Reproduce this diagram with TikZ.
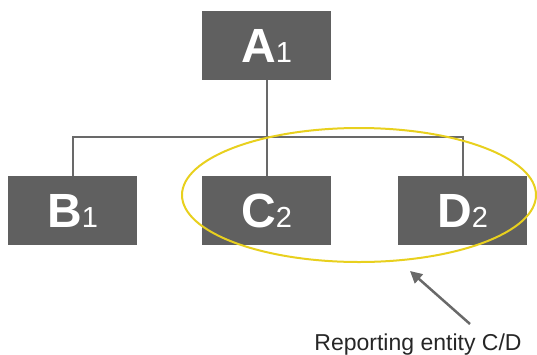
\documentclass[tikz,border=0pt]{standalone}
\usepackage{fontspec}
\setmainfont{Liberation Sans}
\usetikzlibrary{shapes.geometric,arrows.meta}
\definecolor{boxgray}{RGB}{96,96,96}
\definecolor{linegray}{RGB}{105,105,105}
\definecolor{eyyellow}{RGB}{232,208,30}
\begin{document}
\begin{tikzpicture}[x=1pt,y=-1pt,
  entity/.style={fill=boxgray,minimum width=129pt,minimum height=69pt,inner sep=0pt,text=white},
  link/.style={draw=linegray,line width=2pt}]
\useasboundingbox (0,0) rectangle (537,354);
\newcommand{\ent}[2]{{\fontsize{48}{48}\selectfont\bfseries #1}{\fontsize{29}{29}\selectfont #2}}
\node[entity] (A) at (266.5,45.5) {\ent{A}{1}};
\node[entity] (B) at (72.5,210.5) {\ent{B}{1}};
\node[entity] (C) at (266.5,210.5) {\ent{C}{2}};
\node[entity] (D) at (462.5,210.5) {\ent{D}{2}};
\coordinate (J) at (266.5,137);
\draw[link] (A.south) -- (C.north);
\draw[link] (B.north) |- (J) -| (D.north);
\node[draw=eyyellow,line width=2pt,ellipse,minimum width=354pt,minimum height=134pt,inner sep=0pt] (E) at (359,195) {};
\node[anchor=base,font=\fontsize{23}{23}\selectfont,text=black!85] (L) at (418,350) {Reporting entity C/D};
\coordinate (S) at (470,324);
\coordinate (T) at (410,271);
\draw[draw=linegray,line width=2.5pt,-{Triangle[length=12pt,width=12pt]}] (S) -- (T);
\end{tikzpicture}
\end{document}
